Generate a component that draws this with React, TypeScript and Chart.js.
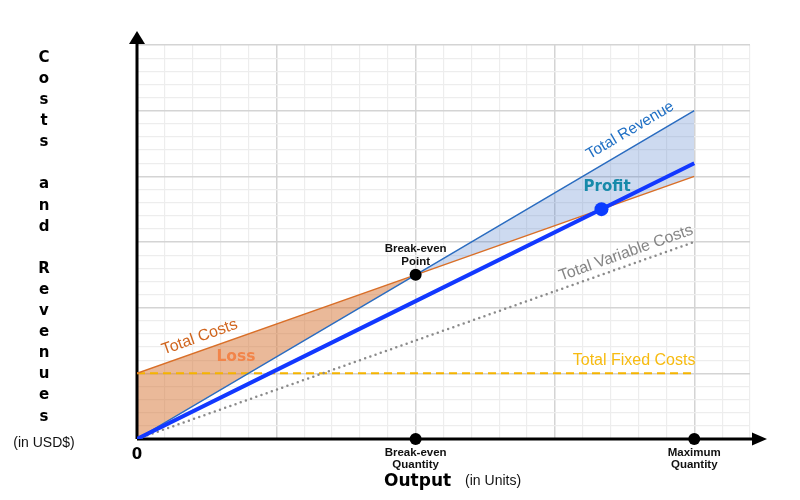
import { useEffect, useRef } from 'react';
import { Chart, registerables } from 'chart.js';

Chart.register(...registerables);

// ---- data ----
const quantities = [0, 10, 20];
const totalRevenue = [0, 250, 500];
const totalCosts = [100, 250, 400];
const totalFixedCosts = [100, 100, 100];
const totalVariableCosts = [0, 150, 300];
const salesLine = [0, 210, 420];
const breakEvenQuantity = 10;
const breakEvenValue = 250;
const maximumQuantity = 20;
const profitPointX = 16.67;
const profitPointY = 350;
const xMax = 22;
const yMax = 600;
const xStep = 1;
const yStep = 20;
const yAxisLetters = ['C', 'o', 's', 't', 's', '', 'a', 'n', 'd', '', 'R', 'e', 'v', 'e', 'n', 'u', 'e', 's'];

const FONT = '"Liberation Sans", Arial, sans-serif';
const HEAVY = '"DejaVu Sans", "Liberation Sans", sans-serif';

export default function App() {
  const ref = useRef<HTMLCanvasElement>(null);

  useEffect(() => {
    document.body.style.margin = '0';
    const canvas = ref.current!;
    const pts = (ys: number[]) => quantities.map((x, i) => ({ x, y: ys[i] }));

    const axesPlugin = {
      id: 'axesPlugin',
      beforeDatasetsDraw(chart: any) {
        const { ctx, chartArea } = chart;
        const { left, right, top, bottom } = chartArea;
        ctx.save();
        ctx.strokeStyle = '#000';
        ctx.fillStyle = '#000';
        ctx.lineWidth = 3;
        ctx.beginPath();
        ctx.moveTo(left, bottom);
        ctx.lineTo(left, top - 2);
        ctx.moveTo(left, bottom);
        ctx.lineTo(right + 4, bottom);
        ctx.stroke();
        // arrow heads
        ctx.beginPath();
        ctx.moveTo(left, top - 14);
        ctx.lineTo(left - 8, top - 1);
        ctx.lineTo(left + 8, top - 1);
        ctx.closePath();
        ctx.fill();
        ctx.beginPath();
        ctx.moveTo(right + 17, bottom);
        ctx.lineTo(right + 2, bottom - 6.5);
        ctx.lineTo(right + 2, bottom + 6.5);
        ctx.closePath();
        ctx.fill();
        ctx.restore();
      },
    };

    const labelsPlugin = {
      id: 'labelsPlugin',
      afterDatasetsDraw(chart: any) {
        const { ctx, scales, chartArea } = chart;
        const xs = scales.x;
        const ys = scales.y;
        const px = (v: number) => xs.getPixelForValue(v);
        const py = (v: number) => ys.getPixelForValue(v);
        const slope = (arr: number[]) =>
          Math.atan2(py(arr[2]) - py(arr[0]), px(quantities[2]) - px(quantities[0]));

        const text = (t: string, x: number, y: number, font: string, color: string, angle = 0) => {
          ctx.save();
          ctx.translate(x, y);
          ctx.rotate(angle);
          ctx.font = font;
          ctx.fillStyle = color;
          ctx.textAlign = 'center';
          ctx.textBaseline = 'middle';
          ctx.fillText(t, 0, 0);
          ctx.restore();
        };

        text('Total Revenue', px(17.7), py(470), `15.5px ${FONT}`, '#1f6fc4', slope(totalRevenue));
        text('Total Costs', px(2.25), py(155), `16px ${FONT}`, '#d0651e', slope(totalCosts));
        text('Loss', px(3.55), py(125), `bold 15.5px ${HEAVY}`, '#f28449');
        text('Profit', px(16.87), py(384), `bold 15px ${HEAVY}`, '#178aaa');
        text('Total Variable Costs', px(17.55), py(283), `16px ${FONT}`, '#858585', slope(totalVariableCosts));
        text('Total Fixed Costs', px(17.84), py(119), `16px ${FONT}`, '#f7bb10');

        const bx = px(breakEvenQuantity);
        const by = py(breakEvenValue);
        text('Break-even', bx, by - 26, `bold 11.5px ${FONT}`, '#111');
        text('Point', bx, by - 13, `bold 11.5px ${FONT}`, '#111');

        const bottom = chartArea.bottom;
        text('Break-even', bx, bottom + 14, `bold 11.5px ${FONT}`, '#111');
        text('Quantity', bx, bottom + 26, `bold 11.5px ${FONT}`, '#111');
        const mx = px(maximumQuantity);
        text('Maximum', mx, bottom + 14, `bold 11.5px ${FONT}`, '#111');
        text('Quantity', mx, bottom + 26, `bold 11.5px ${FONT}`, '#111');

        text('0', px(0), bottom + 16, `bold 15px ${HEAVY}`, '#000');
        text('Output', px(10.07), bottom + 43, `bold 17px ${HEAVY}`, '#000');
        text('(in Units)', px(12.78), bottom + 42, `14px ${FONT}`, '#111');

        yAxisLetters.forEach((l, i) => {
          if (l) text(l, 44, 58 + i * 21.1, `bold 15px ${HEAVY}`, '#000');
        });
        text('(in USD$)', 44, 443, `14px ${FONT}`, '#111');
      },
    };

    const chart = new Chart(canvas, {
      type: 'line',
      data: {
        datasets: [
          {
            label: 'Profit point',
            data: [{ x: profitPointX, y: profitPointY }],
            showLine: false,
            pointRadius: 7,
            pointBackgroundColor: '#0b3cff',
            pointBorderWidth: 0,
            clip: false,
          },
          {
            label: 'Markers',
            data: [
              { x: breakEvenQuantity, y: breakEvenValue },
              { x: breakEvenQuantity, y: 0 },
              { x: maximumQuantity, y: 0 },
            ],
            showLine: false,
            pointRadius: 6,
            pointBackgroundColor: '#000',
            pointBorderWidth: 0,
            clip: false,
          },
          {
            label: 'Sales',
            data: pts(salesLine),
            borderColor: '#1238ff',
            borderWidth: 4,
            pointRadius: 0,
            fill: false,
          },
          {
            label: 'Total Revenue',
            data: pts(totalRevenue),
            borderColor: '#2a6cc0',
            borderWidth: 1.5,
            pointRadius: 0,
            fill: { target: 4, above: 'rgba(70,120,200,0.27)', below: 'rgba(214,120,60,0.52)' },
          },
          {
            label: 'Total Costs',
            data: pts(totalCosts),
            borderColor: '#d96f28',
            borderWidth: 1.5,
            pointRadius: 0,
            fill: false,
          },
          {
            label: 'Total Variable Costs',
            data: pts(totalVariableCosts),
            borderColor: '#8a8a8a',
            borderWidth: 2.5,
            borderDash: [0, 5.5],
            borderCapStyle: 'round',
            pointRadius: 0,
            fill: false,
          },
          {
            label: 'Total Fixed Costs',
            data: pts(totalFixedCosts),
            borderColor: '#f5b400',
            borderWidth: 2,
            borderDash: [8, 5],
            pointRadius: 0,
            fill: false,
          },
        ],
      },
      options: {
        responsive: false,
        animation: false,
        layout: { padding: { left: 137, right: 50, top: 45, bottom: 61 } },
        plugins: {
          legend: { display: false },
          tooltip: { enabled: false },
          filler: { drawTime: 'beforeDatasetsDraw' },
        },
        scales: {
          x: {
            type: 'linear',
            min: 0,
            max: xMax,
            ticks: { display: false, stepSize: xStep, autoSkip: false },
            grid: {
              drawTicks: false,
              color: (c: any) => (c.tick && c.tick.value % 5 === 0 ? '#d4d4d4' : '#ededed'),
              lineWidth: (c: any) => (c.tick && c.tick.value % 5 === 0 ? 1.5 : 1.2),
            },
            border: { display: false },
          },
          y: {
            type: 'linear',
            min: 0,
            max: yMax,
            ticks: { display: false, stepSize: yStep, autoSkip: false },
            grid: {
              drawTicks: false,
              color: (c: any) => (c.tick && c.tick.value % 100 === 0 ? '#d4d4d4' : '#ededed'),
              lineWidth: (c: any) => (c.tick && c.tick.value % 100 === 0 ? 1.5 : 1.2),
            },
            border: { display: false },
          },
        },
      } as any,
      plugins: [axesPlugin, labelsPlugin],
    });
    return () => chart.destroy();
  }, []);

  return (
    <div style={{ width: 800, height: 500, background: '#fff' }}>
      <canvas ref={ref} width={800} height={500} style={{ display: 'block' }} />
    </div>
  );
}
